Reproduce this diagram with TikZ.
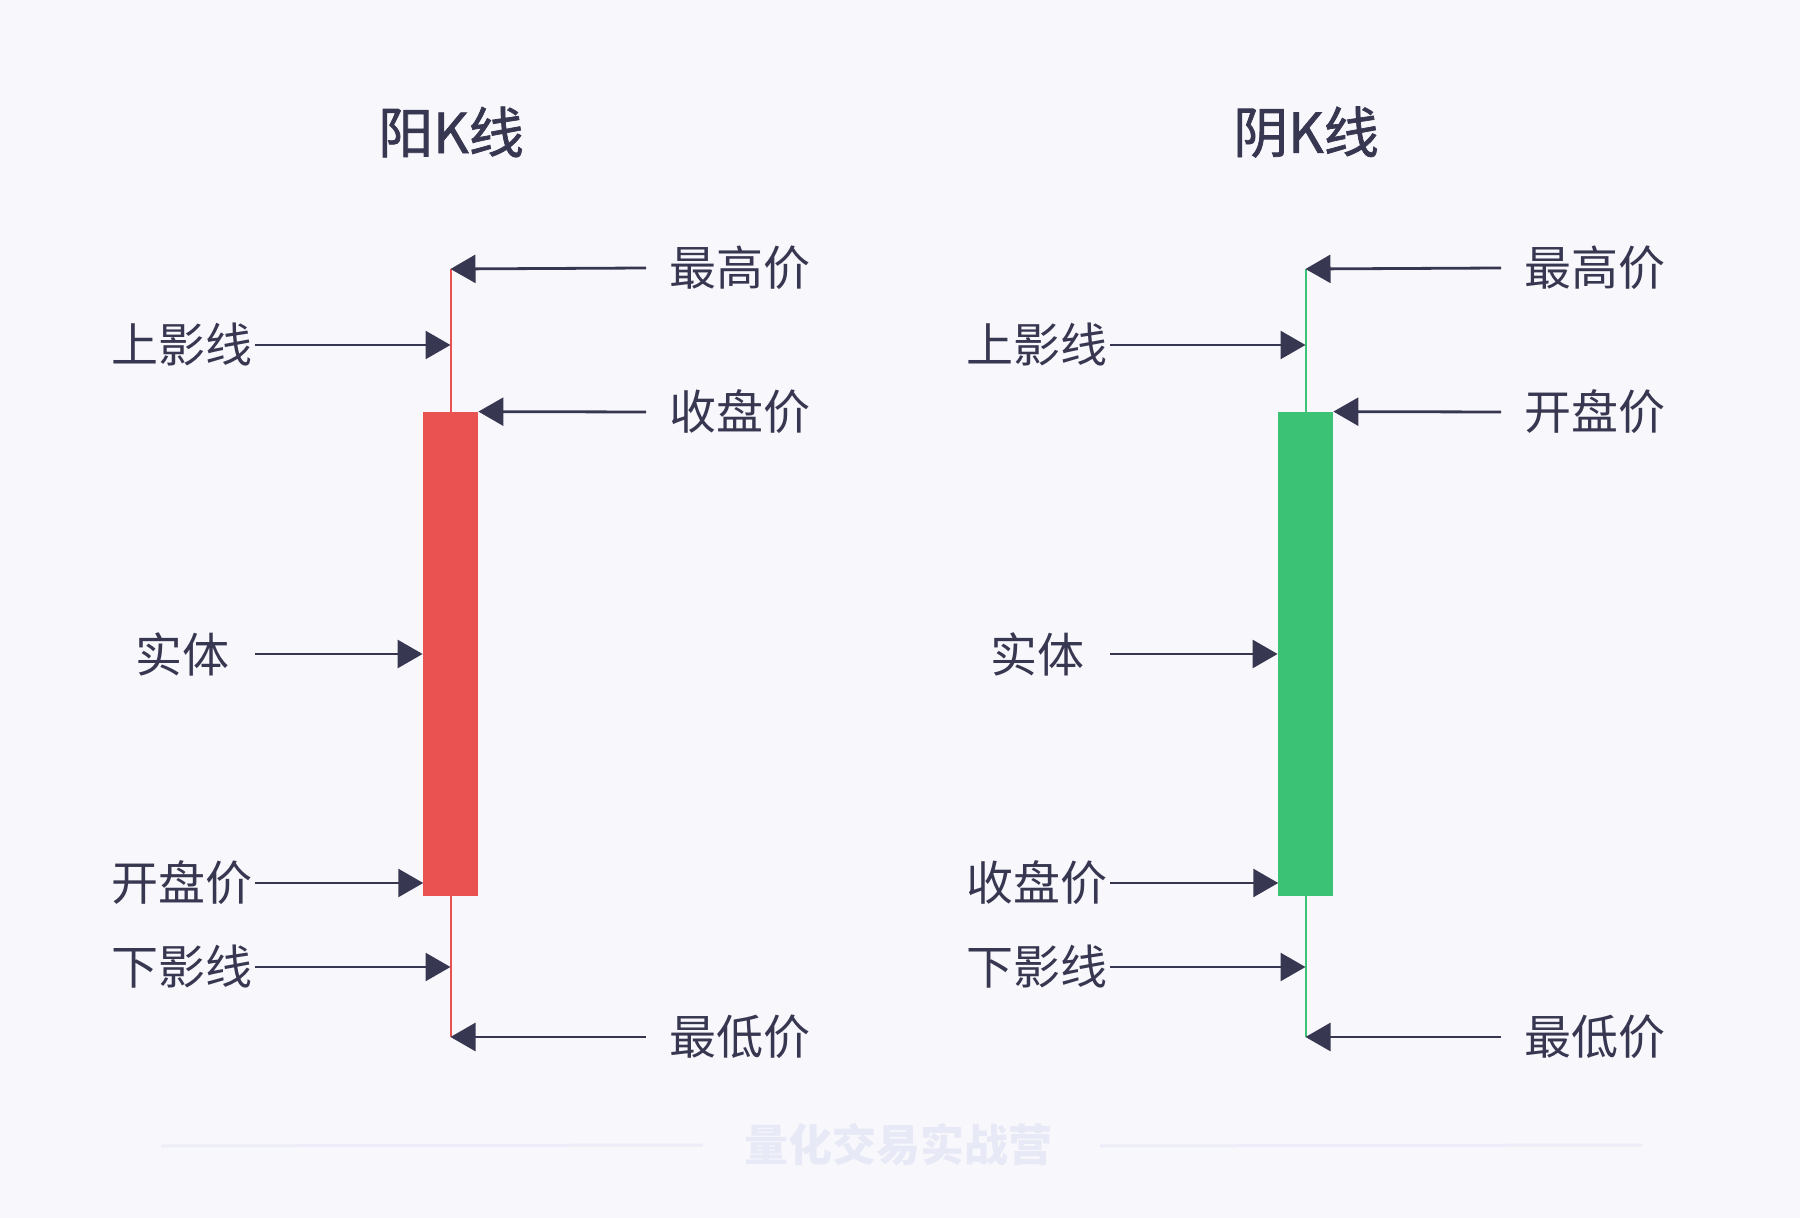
\documentclass[tikz,border=0pt]{standalone}
\usepackage{fontspec}
\setmainfont{Noto Sans CJK SC}
\newfontfamily\titlefont[FakeBold=1.3]{Noto Sans CJK SC}
\usetikzlibrary{arrows.meta}
\definecolor{bg}{HTML}{F8F8FC}
\definecolor{ink}{HTML}{383751}
\definecolor{upred}{HTML}{EA5252}
\definecolor{downgreen}{HTML}{3BC275}
\definecolor{wmtext}{HTML}{E8E9F6}
\definecolor{wmline}{HTML}{ECEDF8}
\tikzset{
  titletext/.style={inner sep=0pt, text=ink, font=\fontsize{27.5pt}{32pt}\titlefont},
  leftlabel/.style={inner sep=0pt, minimum width=71pt, text=ink, font=\fontsize{23.5pt}{28pt}\selectfont},
  rightlabel/.style={inner ysep=0pt, inner xsep=11.5pt, anchor=west, text=ink, font=\fontsize{23.5pt}{28pt}\selectfont},
  pointer/.style={draw=ink, line width=1.4pt, -{Triangle[length=12.5pt,width=14pt]}},
  candlebody/.style={draw=none, minimum width=27.5pt, minimum height=242pt, inner sep=0pt},
  wick/.style={line width=1pt},
  wmark/.style={inner sep=0pt, text=wmtext, font=\fontsize{22pt}{26pt}\selectfont\bfseries},
  wmrule/.style={draw=wmline, line width=1.5pt}
}
\begin{document}
\begin{tikzpicture}[x=0.5pt,y=-0.5pt]
\fill[bg] (0,0) rectangle (1800,1218);
\useasboundingbox (0,0) rectangle (1800,1218);

\foreach \s/\dx/\col/\ttl/\toplab/\botlab in {L/0/upred/阳K线/收盘价/开盘价, R/855/downgreen/阴K线/开盘价/收盘价}{
  \begin{scope}[xshift=\dx*0.5pt]
    % title
    \node[titletext] (title\s) at (451,132) {\ttl};
    % wick
    \coordinate (hi\s) at (450.5,269);
    \coordinate (lo\s) at (450.5,1037);
    \draw[wick, draw=\col] (hi\s) -- (lo\s);
    % body
    \node[candlebody, fill=\col] (body\s) at (450.5,654) {};
    % targets
    \coordinate (upw\s) at (450.5,345);
    \coordinate (open\s) at (423.25,883);
    \coordinate (loww\s) at (450.5,967);
    % left labels
    \node[leftlabel] (lup\s) at (182,345) {上影线};
    \node[leftlabel] (lbody\s) at (182,654) {实体};
    \node[leftlabel] (lbot\s) at (182,883) {\botlab};
    \node[leftlabel] (llow\s) at (182,967) {下影线};
    \draw[pointer] ([xshift=1pt]lup\s.east) -- (upw\s);
    \draw[pointer] ([xshift=1pt]lbody\s.east) -- (body\s.west);
    \draw[pointer] ([xshift=1pt]lbot\s.east) -- (open\s);
    \draw[pointer] ([xshift=1pt]llow\s.east) -- (loww\s);
    % right labels
    \node[rightlabel] (rhigh\s) at (646,268) {最高价};
    \node[rightlabel] (rtop\s) at (646,412) {\toplab};
    \node[rightlabel] (rlow\s) at (646,1037) {最低价};
    \draw[pointer] (rhigh\s.west) -- (hi\s);
    \draw[pointer] (rtop\s.west) -- (body\s.north east);
    \draw[pointer] (rlow\s.west) -- (lo\s);
  \end{scope}
}

% watermark
\node[wmark] (wm) at (898,1145) {量化交易实战营};
\coordinate (wmla) at (161,1146);
\coordinate (wmlb) at (703,1145);
\coordinate (wmra) at (1100,1146);
\coordinate (wmrb) at (1642,1145);
\draw[wmrule] (wmla) -- (wmlb);
\draw[wmrule] (wmra) -- (wmrb);
\end{tikzpicture}
\end{document}
